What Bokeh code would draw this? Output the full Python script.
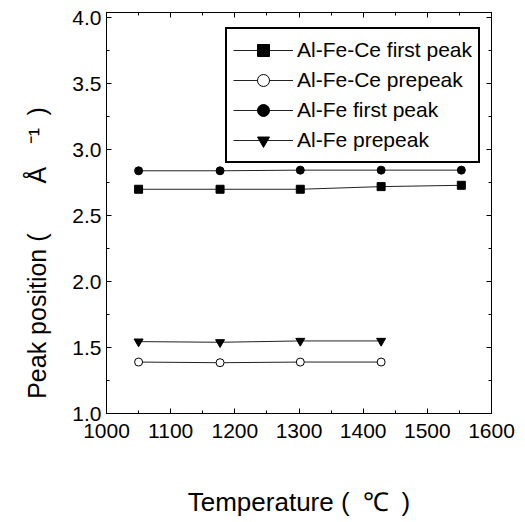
from bokeh.plotting import figure
from bokeh.models import (Range1d, LinearAxis, SingleIntervalTicker, PrintfTickFormatter,
                          Legend, LegendItem, CustomJSTickFormatter)
from bokeh.embed import file_html
from bokeh.resources import INLINE

# ---- data ----
temps_ce = [1050, 1177, 1302, 1428, 1553]
temps_fe = [1050, 1177, 1302, 1428]
temps_fe_first = [1050, 1177, 1302, 1428, 1553]
alfece_first = [2.70, 2.70, 2.70, 2.72, 2.73]
alfece_pre = [1.39, 1.385, 1.39, 1.39]
alfe_first = [2.84, 2.84, 2.845, 2.845, 2.845]
alfe_pre = [1.545, 1.54, 1.55, 1.55]
series_names = ["Al-Fe-Ce first peak", "Al-Fe-Ce prepeak", "Al-Fe first peak", "Al-Fe prepeak"]
x_label = "Temperature (\u2002\u2103\u2002)"
y_label = ("Peak position (\u2003\u2003\u00c5\u2002\u2009\u2009\u207b\u00b9\u2002)"
           "\u2003\u2003\u2003\u2009")

FONT = "Liberation Sans"

p = figure(frame_width=385, frame_height=401,
           x_range=Range1d(1000, 1600), y_range=Range1d(1.0, 4.04),
           output_backend="svg", toolbar_location=None,
           min_border_left=106, min_border_top=12, min_border_right=25, min_border_bottom=40,
           background_fill_color="white", border_fill_color="white")
p.grid.visible = False
p.outline_line_color = "black"
p.outline_line_width = 1

# axes styling
xa = p.xaxis[0]
ya = p.yaxis[0]
xa.ticker = SingleIntervalTicker(interval=100, num_minor_ticks=2)
ya.ticker = SingleIntervalTicker(interval=0.5, num_minor_ticks=2)
ya.formatter = PrintfTickFormatter(format="%.1f")
for ax in (xa, ya):
    ax.major_tick_in = 5
    ax.major_tick_out = 0
    ax.minor_tick_in = 3
    ax.minor_tick_out = 0
    ax.axis_line_color = "black"
    ax.major_tick_line_color = "black"
    ax.minor_tick_line_color = "black"
    ax.major_label_text_font = FONT
    ax.major_label_text_font_size = "21px"
    ax.major_label_text_color = "black"
    ax.axis_label_text_font = FONT
    ax.axis_label_text_font_style = "normal"
    ax.axis_label_text_font_size = "25px"
    ax.axis_label_text_color = "black"
xa.axis_label_text_font_size = "26px"
xa.major_label_standoff = 10
ya.major_label_standoff = 5
xa.axis_label = x_label
xa.axis_label_standoff = 46
ya.axis_label = y_label
ya.axis_label_standoff = 18

# mirrored axes (top / right) with inward ticks and no labels
for loc, interval in (("above", 100), ("right", 0.5)):
    ax = LinearAxis(ticker=SingleIntervalTicker(interval=interval, num_minor_ticks=2),
                    formatter=CustomJSTickFormatter(code="return ''"))
    ax.major_label_standoff = 0
    ax.major_tick_in = 5
    ax.major_tick_out = 0
    ax.minor_tick_in = 3
    ax.minor_tick_out = 0
    ax.axis_line_color = "black"
    p.add_layout(ax, loc)

line_kw = dict(line_color="#222222", line_width=1)
l1 = p.line(temps_ce, alfece_first, **line_kw)
m1 = p.scatter(temps_ce, alfece_first, marker="square", size=8, fill_color="black", line_color="black")
l2 = p.line(temps_fe, alfece_pre, **line_kw)
m2 = p.scatter(temps_fe, alfece_pre, marker="circle", size=8, fill_color="white", line_color="black", line_width=1)
l3 = p.line(temps_fe_first, alfe_first, **line_kw)
m3 = p.scatter(temps_fe_first, alfe_first, marker="circle", size=8, fill_color="black", line_color="black")
l4 = p.line(temps_fe, alfe_pre, **line_kw)
m4 = p.scatter(temps_fe, alfe_pre, marker="inverted_triangle", size=9, fill_color="black", line_color="black")

legend = Legend(items=[
    LegendItem(label=series_names[0], renderers=[l1, m1]),
    LegendItem(label=series_names[1], renderers=[l2, m2]),
    LegendItem(label=series_names[2], renderers=[l3, m3]),
    LegendItem(label=series_names[3], renderers=[l4, m4]),
], location=(119, 250))
legend.margin = 0
legend.padding = 6
legend.spacing = 0
legend.glyph_width = 60
legend.glyph_height = 30
legend.label_height = 30
legend.label_standoff = 4
legend.label_text_font = FONT
legend.label_text_font_size = "21px"
legend.label_text_color = "black"
legend.border_line_color = "black"
legend.border_line_width = 2
legend.border_line_alpha = 1
legend.background_fill_alpha = 1
p.add_layout(legend, "center")

open("out.html", "w").write(file_html(p, INLINE))
